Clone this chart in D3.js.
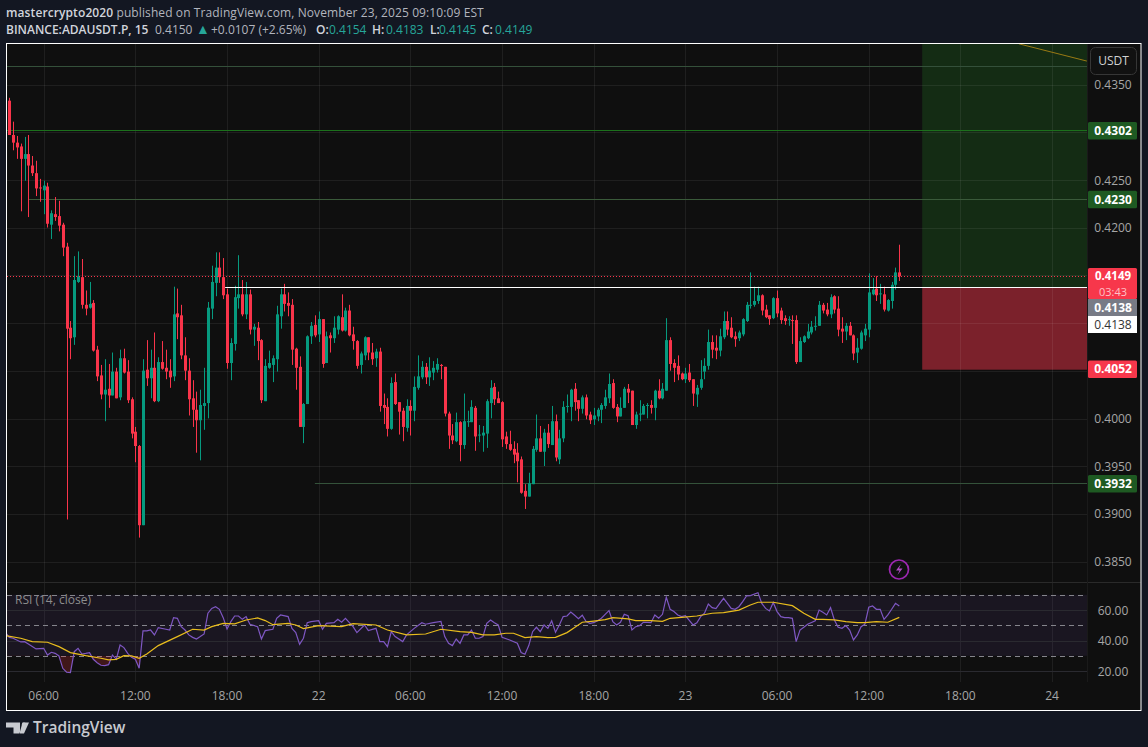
<!DOCTYPE html>
<html>
<head>
<meta charset="utf-8">
<script src="https://cdn.jsdelivr.net/npm/d3@7"></script>
<style>
  html, body { margin: 0; padding: 0; background: #131722; }
  svg { display: block; font-family: "Open Sans", sans-serif; }
</style>
</head>
<body>
<svg id="chart" width="1148" height="747"></svg>
<script>
// candles, 15 minute bars from Nov 21 03:45
const opens = [.4334,.4298,.4290,.4286,.4273,.4278,.4266,.4258,.4243,.4240,.4244,.4204,.4215,.4213,.4204,.4181,.4096,.4086,.4144,.4149,.4120,.4117,.4122,.4073,.4046,.4026,.4032,.4025,.4050,.4023,.4064,.4050,.4021,.3987,.3972,.3889,.4052,.4043,.4054,.4019,.4060,.4054,.4051,.4045,.4111,.4109,.4067,.4051,.4022,.4010,.3999,.4014,.4017,.4116,.4143,.4159,.4149,.4131,.4059,.4079,.4127,.4131,.4110,.4131,.4094,.4096,.4083,.4019,.4054,.4057,.4063,.4108,.4131,.4122,.4120,.4074,.4055,
  .3992,.4016,.4087,.4099,.4089,.4105,.4059,.4088,.4085,.4094,.4107,.4093,.4114,.4089,.4082,.4057,.4067,.4086,.4070,.4064,.4071,.4015,.4013,.3990,.4039,.4018,.4009,.3991,.4014,.4009,.4033,.4044,.4055,.4044,.4049,.4052,.4057,.4055,.4006,.3983,.3977,.3997,.3973,.3997,.3997,.4012,.3983,.3983,.3985,.4017,.4034,.4022,.4018,.3982,.3974,.3969,.3965,.3958,.3925,.3919,.3932,.3968,.3980,.3966,.3986,.3973,.3998,.3958,.3980,.4013,.4013,.4032,.4020,.4011,.4023,.4005,.4000,.4003,
  .4010,.4014,.4022,.4038,.4013,.4003,.4012,.4032,.4030,.3994,.4005,.4005,.4014,.4015,.4012,.4030,.4022,.4030,.4083,.4059,.4056,.4048,.4042,.4049,.4042,.4026,.4033,.4050,.4056,.4081,.4075,.4072,.4086,.4103,.4096,.4087,.4085,.4089,.4103,.4119,.4120,.4124,.4130,.4115,.4109,.4106,.4127,.4114,.4106,.4104,.4104,.4104,.4060,.4081,.4085,.4091,.4097,.4098,.4120,.4115,.4110,.4129,.4116,.4095,.4092,.4098,.4088,.4070,.4074,.4088,.4094,.4131,.4137,.4131,.4131,.4114,.4124,.4141,.4154];
const highs = [.4337,.4312,.4297,.4289,.4296,.4298,.4276,.4271,.4252,.4250,.4248,.4219,.4233,.4229,.4206,.4185,.4103,.4171,.4176,.4168,.4135,.4144,.4125,.4077,.4057,.4063,.4058,.4070,.4054,.4073,.4074,.4062,.4023,.3992,.3973,.4063,.4083,.4073,.4091,.4065,.4082,.4073,.4063,.4139,.4137,.4120,.4086,.4064,.4041,.4029,.4031,.4054,.4123,.4161,.4175,.4175,.4169,.4137,.4085,.4140,.4172,.4146,.4144,.4136,.4100,.4102,.4084,.4063,.4072,.4067,.4119,.4137,.4142,.4133,.4126,.4075,.4066,
  .4017,.4088,.4102,.4109,.4113,.4105,.4092,.4091,.4108,.4109,.4131,.4117,.4120,.4097,.4083,.4071,.4087,.4086,.4080,.4074,.4075,.4027,.4022,.4044,.4048,.4018,.4012,.4021,.4020,.4045,.4067,.4061,.4059,.4065,.4061,.4064,.4058,.4055,.4008,.3995,.4007,.3998,.4027,.4009,.4020,.4014,.3994,.3993,.4021,.4041,.4038,.4029,.4019,.3987,.3988,.3977,.3975,.3961,.3932,.3944,.3972,.4005,.3993,.3990,.3995,.4014,.4005,.3989,.4019,.4026,.4032,.4038,.4020,.4025,.4026,.4008,.4012,.4012,
  .4017,.4031,.4048,.4042,.4016,.4023,.4034,.4037,.4030,.4008,.4020,.4016,.4017,.4020,.4031,.4042,.4038,.4106,.4086,.4063,.4067,.4049,.4054,.4058,.4042,.4036,.4062,.4064,.4094,.4088,.4088,.4095,.4113,.4113,.4107,.4092,.4093,.4106,.4123,.4154,.4139,.4139,.4131,.4120,.4109,.4128,.4135,.4117,.4109,.4108,.4109,.4109,.4086,.4088,.4100,.4103,.4108,.4124,.4122,.4122,.4131,.4130,.4129,.4107,.4101,.4102,.4089,.4085,.4093,.4100,.4153,.4148,.4150,.4142,.4139,.4126,.4144,.4159,.4183];
const lows = [.4298,.4282,.4273,.4218,.4250,.4212,.4255,.4234,.4228,.4215,.4201,.4189,.4208,.4197,.4171,.3895,.4063,.4078,.4143,.4116,.4109,.4116,.4071,.4040,.4021,.3998,.4012,.4025,.4022,.4020,.4048,.4017,.3980,.3955,.3876,.3889,.4035,.4022,.4018,.4018,.4052,.4042,.4033,.4040,.4084,.4063,.4041,.4004,.3992,.3965,.3957,.3989,.4001,.4105,.4129,.4143,.4126,.4053,.4041,.4072,.4116,.4108,.4105,.4089,.4077,.4062,.4017,.4019,.4053,.4039,.4050,.4095,.4113,.4108,.4057,.4031,.3992,
  .3975,.4016,.4079,.4086,.4081,.4054,.4059,.4070,.4080,.4089,.4092,.4092,.4087,.4073,.4053,.4048,.4062,.4062,.4057,.4055,.4008,.3995,.3982,.3989,.4015,.3984,.3977,.3987,.3983,.3998,.4031,.4042,.4037,.4035,.4041,.4049,.4042,.4003,.3969,.3974,.3976,.3956,.3969,.3992,.3997,.3967,.3976,.3966,.3970,.4001,.4015,.4017,.3971,.3969,.3967,.3954,.3934,.3922,.3906,.3919,.3932,.3966,.3966,.3951,.3970,.3973,.3956,.3953,.3976,.4007,.3998,.4009,.3998,.4006,.4000,.3995,.3994,.3998,
  .3996,.4011,.4017,.4011,.3997,.4003,.4012,.4017,.3994,.3990,.3998,.4005,.4001,.4006,.3999,.4021,.4021,.4030,.4051,.4039,.4041,.4041,.4038,.4039,.4014,.4013,.4031,.4042,.4052,.4064,.4063,.4066,.4084,.4088,.4085,.4076,.4082,.4087,.4102,.4116,.4118,.4121,.4109,.4106,.4099,.4105,.4107,.4100,.4099,.4098,.4079,.4058,.4060,.4080,.4084,.4089,.4093,.4098,.4111,.4108,.4106,.4111,.4087,.4080,.4083,.4088,.4062,.4059,.4073,.4082,.4086,.4130,.4124,.4121,.4113,.4113,.4116,.4136,.4145];
const closes = [.4298,.4290,.4285,.4273,.4278,.4266,.4258,.4242,.4242,.4245,.4205,.4216,.4212,.4203,.4180,.4095,.4085,.4146,.4150,.4120,.4116,.4121,.4072,.4045,.4026,.4031,.4025,.4050,.4022,.4064,.4049,.4020,.3985,.3972,.3889,.4051,.4043,.4054,.4019,.4060,.4053,.4050,.4044,.4110,.4107,.4067,.4051,.4021,.4010,.3999,.4015,.4017,.4117,.4144,.4159,.4149,.4130,.4059,.4080,.4128,.4131,.4110,.4131,.4094,.4097,.4082,.4020,.4056,.4059,.4064,.4110,.4131,.4121,.4119,.4073,.4054,.3992,
  .4016,.4087,.4098,.4088,.4105,.4058,.4087,.4085,.4096,.4108,.4093,.4114,.4088,.4082,.4056,.4069,.4086,.4070,.4063,.4071,.4014,.4012,.3990,.4038,.4016,.4008,.3992,.4014,.4009,.4034,.4045,.4055,.4044,.4051,.4054,.4058,.4056,.4006,.3983,.3978,.3997,.3973,.3998,.3998,.4013,.3982,.3984,.3986,.4019,.4033,.4021,.4017,.3979,.3974,.3968,.3963,.3956,.3923,.3919,.3933,.3969,.3980,.3966,.3986,.3974,.3998,.3960,.3980,.4013,.4014,.4031,.4018,.4011,.4023,.4004,.3999,.4004,.4010,
  .4015,.4023,.4037,.4012,.4003,.4012,.4032,.4028,.3994,.4005,.4006,.4014,.4015,.4012,.4030,.4022,.4032,.4083,.4058,.4054,.4047,.4042,.4048,.4041,.4027,.4033,.4042,.4056,.4081,.4073,.4072,.4087,.4103,.4094,.4086,.4084,.4091,.4105,.4120,.4120,.4124,.4130,.4114,.4107,.4105,.4127,.4111,.4104,.4103,.4105,.4103,.4060,.4082,.4087,.4092,.4097,.4098,.4120,.4114,.4110,.4128,.4115,.4094,.4092,.4098,.4088,.4069,.4075,.4091,.4095,.4133,.4136,.4130,.4132,.4115,.4125,.4141,.4154,.4150];

// RSI pane, read at the bars where the line turns
const rsiBars = [-1,0,1,3,4,5,7,9,10,11,12,13,14,15,16,17,18,19,20,21,22,23,24,25,26,27,28,29,30,31,32,33,34,35,36,37,38,39,41,42,43,44,45,46,47,48,49,50,51,52,53,54,55,56,57,58,59,60,61,62,63,65,66,67,69,70,71,73,74,75,76,77,78,79,81,82,83,85,86,87,88,90,91,93,94,96,97,98,99,100,101,103,104,106,108,109,111,113,114,115,116,117,118,119,120,121,122,123,124,125,126,127,128,129,131,133,134,135,136,137,138,139,140,141,142,143,144,145,146,147,148,149,150,151,152,153,154,155,156,157,158,159,160,161,162,163,164,165,166,168,169,170,171,172,173,174,175,176,177,179,180,181,182,183,184,185,186,187,188,189,190,191,192,193,194,196,197,198,199,200,201,202,203,204,205,206,207,208,209,211,212,213,214,215,216,217,218,219,220,221,222,223,224,225,226,227,228,229,230,231,232,233];
const rsiValues = [45.2,42.1,41.5,39.1,39.3,37.8,34.5,34.9,30.5,32.3,31.6,29.9,21.8,19.2,19,32.7,34.9,31.2,31.6,32.1,27.7,25.5,23.8,23.6,24.2,30.5,27.7,37.1,35.4,31.6,29,27.7,21.8,46.3,46.3,46.9,43.7,48.5,47.4,46.9,55,54.6,49.1,46.9,43.7,42.1,41,42.6,44.3,57.9,61.1,62.2,60.5,55,47.6,52.4,56.1,56.1,53.9,55.7,50.7,49.1,41,46.5,47.4,54.6,56.8,55.7,48,45.2,37.5,41.5,51.7,52.4,53,47.4,51.3,51.7,53.9,52,54.6,49.1,45.2,50.2,46.5,48,39.3,39.3,36,45.8,42.6,39.3,43.7,48,51.7,50.7,51.7,52.6,42.6,38.2,36.7,41,38.2,43.7,43.7,46.9,41.5,41.5,42.6,51.3,53.5,51.7,50.2,42.1,40.4,38.2,32.1,31,36.7,45.8,48.7,45.8,50.2,48,53,45.4,50.2,55.7,56.1,58.7,56.6,54.4,56.6,52.4,51.3,51.7,53,54.6,57.2,59.6,52.4,50.2,52,57.2,56.3,46.9,49.1,49.8,52,51.7,56.8,54.6,57.2,68.4,60.5,59,56.8,55.7,56.3,50.2,51.7,55.7,57.9,64,61.6,60.9,64.4,67.7,64.4,61.1,60.5,62.2,65.5,69.2,69.5,71.4,64.4,61.1,59.4,64.9,59,55.7,55,55,54.6,39.3,46.9,48.7,50.7,53,60,58.5,56.8,61.6,53.5,48.7,48,49.8,46.9,40.4,43.7,49.1,50.7,61.8,62.7,60.5,60.5,53.9,56.8,60.5,64.4,62.7];
const maBars = [-1,3,6,10,13,16,20,24,26,28,30,32,34,36,39,44,48,51,53,56,59,62,65,67,69,73,75,77,81,87,90,96,99,104,109,113,118,121,124,127,130,132,135,138,141,143,146,148,150,153,156,158,162,164,168,171,173,176,180,184,187,191,194,196,200,205,208,211,213,216,219,222,224,227,230,233];
const maValues = [43.2,41.5,39.3,38.9,36,32.1,30.1,28.4,27.3,27.7,30.1,29.9,28.4,31.2,36.7,42.6,47.4,46.9,49.1,51.3,50.9,53.5,54.8,53.1,50.4,51.3,50.2,47.8,49.8,49.1,51.1,50.2,46.9,43.7,44.3,47.4,45.8,45.4,43.7,43.7,44.8,44.8,41.9,42.6,41.9,42.1,45.2,48.5,52,52.8,53.7,55,54.2,53.1,53.1,52.6,54.6,55.2,56.1,57.9,58.3,60,63.3,65.1,65.1,62.9,57.9,53.9,53.9,53.5,52.4,51.7,51.7,52.4,52,55.2];

// axis and drawing levels
const priceTicks = [.435,.43,.425,.42,.415,.41,.405,.40,.395,.39,.385];
const priceLabels = [.435,.425,.42,.40,.395,.39,.385];
const rsiTicks = [60,40,20];
const rsiBands = [70,50,30];
const greenLevels = [[.4369,0,"#34503a"],[.4302,0,"#1c701c"],[.4230,5,"#3a5a3a"],[.3932,80,"#34523a"]]; // price, first bar, colour
const entryLevel = .4138, stopLevel = .4052, lastPrice = .4149;
const entryBar = 56.5;
const zoneBar = 239;
const trendBars = [264.3,282.1], trendPrices = [.43936,.43755];
const priceTags = [
  {text:"0.4302", price:.4302, fill:"#1e5a22", color:"#fff"},
  {text:"0.4230", price:.4230, fill:"#1e5a22", color:"#fff"},
  {text:"0.4138", price:.4129, fill:"#787b86", color:"#fff", h:17, top:299},
  {text:"0.4138", price:.4112, fill:"#ffffff", color:"#333", h:17, top:316, plain:true},
  {text:"0.4052", price:.4052, fill:"#f7374b", color:"#fff"},
  {text:"0.3932", price:.3932, fill:"#1e5a22", color:"#fff"},
];

const W = 1148, H = 747;
const plotLeft = 7, plotRight = 1087, plotTop = 44, paneBottom = 583, rsiBottom = 682, plotBottom = 710;
const t0 = Date.UTC(2025, 10, 21, 3, 45);
const barTime = i => new Date(t0 + i * 9e5);

const x = d3.scaleUtc()
  .domain([barTime(0), barTime(233)])
  .range([9.3, 899.3]);
const y = d3.scaleLinear().domain([.40, .4350]).range([419.3, 85.4]);
const yR = d3.scaleLinear().domain([50, 30]).range([625.3, 655.8]);
const crisp = v => Math.round(v) + .5;
const crispY = v => Math.floor(v - .3) + .5;

const svg = d3.select("#chart");
svg.append("rect").attr("width", W).attr("height", H).attr("fill", "#131722");

const defs = svg.append("defs");
defs.append("clipPath").attr("id", "plot").append("rect")
  .attr("x", plotLeft).attr("y", plotTop).attr("width", plotRight - plotLeft).attr("height", paneBottom - plotTop);
defs.append("clipPath").attr("id", "rsiPlot").append("rect")
  .attr("x", plotLeft).attr("y", paneBottom).attr("width", plotRight - plotLeft).attr("height", rsiBottom - paneBottom);
defs.append("clipPath").attr("id", "below30").append("rect")
  .attr("x", plotLeft).attr("y", yR(30)).attr("width", plotRight - plotLeft).attr("height", rsiBottom - yR(30));

svg.append("rect").attr("x", plotLeft).attr("y", plotTop).attr("width", 1134).attr("height", plotBottom - plotTop).attr("fill", "#0f0f0f");

// position zones
const zoneX = x(barTime(zoneBar));
svg.append("rect").attr("x", zoneX).attr("y", plotTop).attr("width", plotRight - zoneX)
  .attr("height", y(entryLevel) - plotTop).attr("fill", "#1a4a1a").attr("fill-opacity", .5);
svg.append("rect").attr("x", zoneX).attr("y", y(entryLevel)).attr("width", plotRight - zoneX)
  .attr("height", y(stopLevel) - y(entryLevel)).attr("fill", "#8e2430").attr("fill-opacity", .85);

// grid
const timeTicks = x.copy().domain([barTime(-2), barTime(283)]).ticks(d3.utcHour.every(6));
const grid = svg.append("g").attr("stroke", "#ffffff").attr("stroke-opacity", .07).attr("stroke-width", 1);
grid.selectAll("line.v").data(timeTicks).join("line").attr("class", "v")
  .attr("x1", d => crisp(x(d))).attr("x2", d => crisp(x(d)))
  .attr("y1", plotTop).attr("y2", rsiBottom);
grid.selectAll("line.h").data(priceTicks).join("line").attr("class", "h")
  .attr("x1", plotLeft).attr("x2", plotRight)
  .attr("y1", d => crispY(y(d))).attr("y2", d => crispY(y(d)));

const plot = svg.append("g").attr("clip-path", "url(#plot)");

// levels
plot.selectAll("line.level").data(greenLevels).join("line").attr("class", "level")
  .attr("x1", d => d[1] ? x(barTime(d[1])) : plotLeft).attr("x2", plotRight)
  .attr("y1", d => crispY(y(d[0]))).attr("y2", d => crispY(y(d[0])))
  .attr("stroke", d => d[2]).attr("stroke-width", 1);
plot.append("line").attr("x1", x(barTime(trendBars[0]))).attr("x2", x(barTime(trendBars[1])))
  .attr("y1", y(trendPrices[0])).attr("y2", y(trendPrices[1]))
  .attr("stroke", "#9a7a14").attr("stroke-width", 1);

// candles
const candles = opens.map((o, i) => ({ i, o, h: highs[i], l: lows[i], c: closes[i] }));
const up = "#069a7f", down = "#f9344a";
const g = plot.selectAll("g.candle").data(candles).join("g").attr("class", "candle")
  .attr("fill", d => d.c >= d.o ? up : down)
  .attr("stroke", d => d.c >= d.o ? up : down);
g.append("line")
  .attr("x1", d => crisp(x(barTime(d.i)))).attr("x2", d => crisp(x(barTime(d.i))))
  .attr("y1", d => y(d.h)).attr("y2", d => y(d.l))
  .attr("stroke-width", 1);
g.append("rect")
  .attr("x", d => crisp(x(barTime(d.i))) - 1.5)
  .attr("width", 3)
  .attr("y", d => y(Math.max(d.o, d.c)))
  .attr("height", d => Math.max(1, Math.abs(y(d.o) - y(d.c))))
  .attr("stroke", "none");

// entry and last price lines
plot.append("line").attr("x1", x(barTime(entryBar))).attr("x2", plotRight)
  .attr("y1", crispY(y(entryLevel))).attr("y2", crispY(y(entryLevel)))
  .attr("stroke", "#fff").attr("stroke-width", 1.2);
plot.append("line").attr("x1", plotLeft).attr("x2", plotRight)
  .attr("y1", crispY(y(lastPrice))).attr("y2", crispY(y(lastPrice)))
  .attr("stroke", "#f9344a").attr("stroke-width", 1).attr("stroke-dasharray", "1 2");

// rsi pane
const rsi = svg.append("g").attr("clip-path", "url(#rsiPlot)");
svg.append("line").attr("x1", plotLeft).attr("x2", 1141).attr("y1", paneBottom - .5).attr("y2", paneBottom - .5).attr("stroke", "#2a2a2a");
rsi.append("rect").attr("x", plotLeft).attr("width", plotRight - plotLeft).attr("y", yR(70)).attr("height", yR(30) - yR(70))
  .attr("fill", "#7e57c2").attr("fill-opacity", .1);
rsi.selectAll("line.r").data(rsiTicks).join("line").attr("class", "r")
  .attr("x1", plotLeft).attr("x2", plotRight)
  .attr("y1", d => crisp(yR(d))).attr("y2", d => crisp(yR(d)))
  .attr("stroke", "#2a2a30");
rsi.selectAll("line.b").data(rsiBands).join("line").attr("class", "b")
  .attr("x1", plotLeft).attr("x2", plotRight)
  .attr("y1", d => crisp(yR(d))).attr("y2", d => crisp(yR(d)))
  .attr("stroke", "#85858c").attr("stroke-dasharray", "5 4");

const rsiPts = rsiBars.map((b, i) => [x(barTime(b)), yR(rsiValues[i])]);
const maPts = maBars.map((b, i) => [x(barTime(b)), yR(maValues[i])]);
const below = rsi.append("g").attr("clip-path", "url(#below30)");
below.append("path")
  .attr("d", d3.area().x(d => d[0]).y0(yR(30)).y1(d => d[1])(rsiPts))
  .attr("fill", "#f23645").attr("fill-opacity", .22);
rsi.append("path").attr("d", d3.line()(rsiPts)).attr("fill", "none").attr("stroke", "#7e57c2").attr("stroke-width", 1.2);
rsi.append("path").attr("d", d3.line()(maPts)).attr("fill", "none").attr("stroke", "#e9bd1d").attr("stroke-width", 1.2);

svg.append("text").attr("x", 15).attr("y", 604).attr("font-size", 12).attr("fill", "#8c8c8c").text("RSI (14, close)");

// right axis
const axis = svg.append("g").attr("font-size", 12).attr("fill", "#a6a6a6").attr("text-anchor", "middle");
svg.append("line").attr("x1", plotRight + .5).attr("x2", plotRight + .5).attr("y1", plotTop).attr("y2", rsiBottom).attr("stroke", "#1a1a1a");
axis.selectAll("text.p").data(priceLabels).join("text").attr("class", "p")
  .attr("x", 1113).attr("y", d => y(d) + 3.7).text(d => d3.format(".4f")(d));
axis.selectAll("text.r").data(rsiTicks).join("text").attr("class", "r")
  .attr("x", 1113).attr("y", d => yR(d) + 4.5).text(d => d3.format(".2f")(d));

svg.append("rect").attr("x", 1090.5).attr("y", 47.5).attr("width", 46).attr("height", 27).attr("rx", 5)
  .attr("fill", "#111").attr("stroke", "#363636");
svg.append("text").attr("x", 1113.5).attr("y", 65).attr("text-anchor", "middle").attr("font-size", 12).attr("fill", "#d1d1d1").text("USDT");

const tags = svg.append("g").attr("font-size", 12).attr("text-anchor", "middle");
priceTags.forEach(t => {
  const ty = t.top !== undefined ? t.top : y(t.price) - 9.2;
  tags.append("rect").attr("x", 1088).attr("y", ty).attr("width", 49).attr("height", t.h || 17.5).attr("rx", t.top ? 0 : 1.5).attr("fill", t.fill);
  tags.append("text").attr("x", 1113).attr("y", ty + 13).attr("fill", t.color).attr("font-weight", t.plain ? 400 : 700).text(t.text);
});
tags.append("rect").attr("x", 1088).attr("y", 268).attr("width", 49).attr("height", 31).attr("rx", 1.5).attr("fill", "#f7374b");
tags.append("text").attr("x", 1113).attr("y", 279.5).attr("fill", "#fff").attr("font-weight", 700).attr("font-size", 11.5).text(d3.format(".4f")(lastPrice));
tags.append("text").attr("x", 1113).attr("y", 295.5).attr("fill", "#ffc1c8").attr("font-size", 11).text("03:43");

// bottom time axis
const fmt = d => d.getUTCHours() == 0 ? d3.utcFormat("%-d")(d) : d3.utcFormat("%H:%M")(d);
svg.append("g").attr("font-size", 12).attr("fill", "#a6a6a6").attr("text-anchor", "middle")
  .selectAll("text").data(timeTicks).join("text")
  .attr("x", d => x(d)).attr("y", 700).text(fmt);

// frame
svg.append("rect").attr("x", 6.5).attr("y", 43.5).attr("width", 1134.5).attr("height", 667).attr("fill", "none").attr("stroke", "#fff").attr("stroke-width", 1);

// alert icon
svg.append("circle").attr("cx", 899).attr("cy", 569.5).attr("r", 9.5).attr("fill", "none").attr("stroke", "#9c27b0").attr("stroke-width", 1.7);
svg.append("path").attr("d", "M901 564 L896 570.5 H899.5 L897.5 575 L902.5 568.5 H899 Z").attr("fill", "#b04cc4");

// header
const head = svg.append("g").attr("font-size", 12).attr("fill", "#b2b5be");
const l1 = head.append("text").attr("x", 6).attr("y", 17).attr("letter-spacing", .1);
l1.append("tspan").attr("font-weight", 600).attr("fill", "#d1d4dc").text("mastercrypto2020");
l1.append("tspan").text(" published on TradingView.com, November 23, 2025 09:10:09 EST");
const l2 = head.append("text").attr("y", 34);
l2.append("tspan").attr("x", 6).attr("font-weight", 600).attr("fill", "#d1d4dc").text("BINANCE:ADAUSDT.P, 15");
l2.append("tspan").attr("x", 155).text("0.4150");
l2.append("tspan").attr("x", 196).attr("fill", "#26a69a").attr("font-size", 14).text("▲");
l2.append("tspan").attr("x", 211).text("+0.0107 (+2.65%)");
const ohlcNames = ["O:", "H:", "L:", "C:"], ohlcVals = ["0.4154", "0.4183", "0.4145", "0.4149"];
const ohlcX = [316, 372, 430, 482], ohlcValX = [329, 386, 439, 495];
ohlcNames.forEach((n, i) => {
  l2.append("tspan").attr("x", ohlcX[i]).attr("font-weight", 600).attr("fill", "#d1d4dc").text(n);
  l2.append("tspan").attr("x", ohlcValX[i]).attr("fill", "#26a69a").text(ohlcVals[i]);
});

// footer logo
svg.append("path").attr("fill", "#c8cad0").attr("d", "M6 722.5 H20 V733.5 H13.5 V727.5 H6 Z M24 733.5 L29 722.5 H22.5 L19.5 733.5 Z");
svg.append("circle").attr("cx", 24).attr("cy", 724.8).attr("r", 2.2).attr("fill", "#c8cad0");
svg.append("text").attr("x", 33).attr("y", 733).attr("font-size", 15.5).attr("font-weight", 600).attr("fill", "#c8cad0").text("TradingView");
</script>
</body>
</html>
